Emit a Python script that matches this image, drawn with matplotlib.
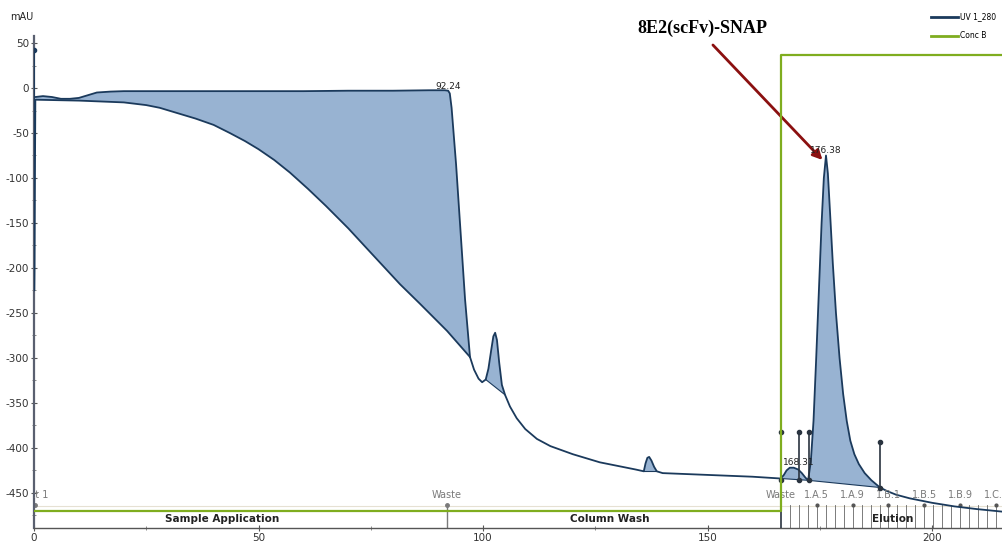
import numpy as np
import matplotlib.pyplot as plt
from matplotlib.lines import Line2D

plt.rcParams['axes.unicode_minus'] = False

# UV 1_280 trace, upper branch (sample application plateau, drop after 92.24)
upper_x = [0.3, 2, 4, 6, 8, 10, 12, 14, 17, 20, 30, 40, 50, 60, 70, 80, 88, 91.5, 92.24,
           92.6, 93, 94, 95, 96, 97.1]
upper_y = [-10, -9, -10, -12, -12, -11, -8, -5, -4, -3.5, -3.5, -3.5, -3.5, -3.5, -3, -3, -2.5,
           -2.5, -3, -6, -22, -85, -160, -235, -299]

# UV 1_280 trace, lower branch (drifting signal) and the rest of the run
uv_x = [0.0, 0.05, 0.1, 0.3, 5, 10, 15, 20, 25, 28, 32, 36, 40, 43.6, 47, 50, 53.5, 57, 61, 65,
        70, 75, 81.5, 86, 92, 97.1, 98, 99, 99.8, 100.6, 101.2, 101.8, 102.3, 102.7, 103.1,
        103.6, 104.2, 104.9, 106, 107.5, 109.4, 112, 115, 120, 126, 130, 134, 135.8, 136.2,
        136.6, 137.0, 137.5, 138.1, 138.7, 140, 145, 150, 155, 160, 166.3, 167, 167.6, 168.31,
        169.2, 170.2, 171, 171.8, 172.4, 173, 173.6, 174.2, 174.8, 175.4, 175.9, 176.38, 176.8,
        177.3, 177.9, 178.6, 179.4, 180.2, 181, 181.8, 182.7, 183.7, 185, 186.5, 188.4, 190,
        192, 195, 200, 205, 210, 216]
uv_y = [42, -225, -200, -13, -13.5, -14, -15, -16, -19, -22, -28, -34, -41, -50, -59, -68, -80,
        -94, -112, -131, -156, -183, -218, -240, -270, -299, -313, -323, -327, -324, -312,
        -292, -276, -272, -280, -305, -330, -341, -354, -367, -379, -390, -398, -407, -416,
        -420, -424, -426, -417, -411, -410, -414, -421, -426, -428, -429, -430, -431, -432,
        -434, -430, -425, -422, -422, -424, -428, -433, -436, -415, -370, -300, -225, -150,
        -100, -75, -95, -140, -195, -250, -300, -340, -370, -392, -407, -418, -428, -436, -444,
        -448, -452, -456, -461, -465, -468, -471]

# integrated peaks (start, end) on the trace
peak_ranges = [(100.6, 104.9), (135.8, 138.7), (166.3, 172.4), (172.4, 188.4)]
peak_labels = [(92.24, 2, '92.24'), (176.38, -69, '176.38'), (170.3, -416, '168.31')]

# peak boundary markers: x, bottom, top
drop_lines = [(166.3, -436, -382), (170.4, -436, -382), (172.5, -436, -382), (188.4, -444, -393)]

# Conc B (%), step at the start of elution
conc_x = [0, 166.3, 166.3, 216]
conc_b = [0, 0, 100, 100]

# run log
phase_names = ['Sample Application', 'Column Wash', 'Elution']
phase_x = [42, 128.3, 191.3]
event_x = [92, 166.3]
event_names = ['Waste', 'Waste']
frac_x = [168.3, 170.3, 172.3, 174.3, 176.3, 178.3, 180.3, 182.3, 184.3, 186.3, 188.3, 190.3,
          192.3, 194.3, 196.3, 198.3, 200.3, 202.3, 204.3, 206.3, 208.3, 210.3, 212.3, 214.3]
frac_label_x = [174.3, 182.3, 190.3, 198.3, 206.3, 214.3]
frac_names = ['1.A.5', '1.A.9', '1.B.1', '1.B.5', '1.B.9', '1.C.1']

uv_col = '#1b3a5c'
fill_col = '#98b3d2'
green = '#7fad1f'
grey = '#7a7a7a'

fig = plt.figure(figsize=(10.03, 5.42), dpi=100)
ax = fig.add_axes([34 / 1003, 14 / 542, 969 / 1003, 492 / 542])
ax.set_xlim(0, 215.8)
ax.set_ylim(-489, 57.8)

uv_x = np.array(uv_x)
uv_y = np.array(uv_y)

# big area between the two branches
m = (uv_x >= 0.3) & (uv_x <= 97.1)
poly_x = list(upper_x) + list(uv_x[m][::-1])
poly_y = list(upper_y) + list(uv_y[m][::-1])
ax.fill(poly_x, poly_y, color=fill_col, lw=0, zorder=1)

for a, b in peak_ranges:
    m = (uv_x >= a) & (uv_x <= b)
    ax.fill(uv_x[m], uv_y[m], color=fill_col, lw=0, zorder=1)
    ax.plot([a, b], [uv_y[m][0], uv_y[m][-1]], color=uv_col, lw=0.8, zorder=2)

ax.plot(upper_x, upper_y, color=uv_col, lw=1.3, zorder=3)
ax.plot(uv_x, uv_y, color=uv_col, lw=1.3, zorder=3)
ax.plot([0.1], [42], 'o', color=uv_col, ms=3, zorder=4)

for x, lo, hi in drop_lines:
    ax.plot([x, x], [lo, hi], color='#2a3440', lw=1.2, zorder=4)
    ax.plot([x], [hi], 'o', color='#2a3440', ms=3, zorder=4)
    ax.plot([x], [lo], 'o', color='#2a3440', ms=3, zorder=4)
ax.plot([166.3, 166.3], [-489, -436], color='#2a3440', lw=1.2, zorder=4)

for x, y, s in peak_labels:
    ax.text(x, y, s, fontsize=6.5, ha='center', va='center', color='#222222', zorder=5)

# Conc B on its own scale
ax2 = ax.twinx()
ax2.set_ylim(-3.74, 104.1)
ax2.plot(conc_x, conc_b, color=green, lw=1.6, zorder=2)
ax2.axis('off')

# run log
ax.axhline(-464, color='#e6e1d3', lw=0.8, zorder=0)
for x in frac_x:
    ax.plot([x, x], [-489, -463], color='#666666', lw=0.6, zorder=2)
for x, s in zip(frac_label_x, frac_names):
    ax.plot([x], [-463], 'o', color='#555555', ms=2, zorder=2)
    ax.text(x, -452, s, fontsize=7, ha='center', va='center', color=grey, clip_on=True)
for x, s in zip(event_x, event_names):
    ax.text(x, -452, s, fontsize=7, ha='center', va='center', color=grey, clip_on=True)
ax.plot([92, 92], [-489, -463], color=grey, lw=1.0, zorder=2)
ax.plot([92], [-463], 'o', color=grey, ms=2.5)
ax.plot([0.3], [-463], 'o', color=grey, ms=2.5)
ax.text(3.3, -452, 'Inject 1', fontsize=7, ha='right', va='center', color=grey, clip_on=True)
for x, s in zip(phase_x, phase_names):
    ax.text(x, -479, s, fontsize=7.5, ha='center', va='center', color='#222222',
            fontweight='semibold')

# axes styling
for side in ['top', 'right']:
    ax.spines[side].set_visible(False)
ax.spines['left'].set_color('#5a6070')
ax.spines['left'].set_linewidth(1.6)
ax.spines['bottom'].set_color('#555555')
ax.spines['bottom'].set_linewidth(1.0)
ax.set_yticks(np.arange(-450, 51, 50))
ax.set_yticks(np.arange(-475, 51, 25), minor=True)
ax.set_xticks([0, 50, 100, 150, 200])
ax.set_xticks(np.arange(0, 216, 25), minor=True)
ax.tick_params(axis='both', which='major', labelsize=7.5, labelcolor='#333333', color='#555555',
               direction='inout', length=4, width=0.8, pad=1.5)
ax.tick_params(axis='both', which='minor', color='#777777', direction='inout', length=3, width=0.6)

fig.text(22 / 1003, 1 - 17 / 542, 'mAU', fontsize=7, ha='center', va='center', color='#222222')

ax.text(148.8, 66.7, '8E2(scFv)-SNAP', fontsize=13, fontweight='bold', family='Liberation Serif',
        ha='center', va='center', clip_on=False)
ax.annotate('', xy=(175.6, -80), xytext=(151.2, 47.8), annotation_clip=False,
            arrowprops=dict(arrowstyle='-|>', color='#8b1010', lw=2.0, mutation_scale=14,
                            shrinkA=0, shrinkB=0))

handles = [Line2D([], [], color=uv_col, lw=2), Line2D([], [], color=green, lw=2)]
fig.legend(handles, ['UV 1_280', 'Conc B'], loc='upper right', bbox_to_anchor=(1.0, 0.99),
           frameon=False, fontsize=5.5, handlelength=3.5, handletextpad=0.3, labelspacing=1.3)

fig.savefig('out.png', dpi=100)
